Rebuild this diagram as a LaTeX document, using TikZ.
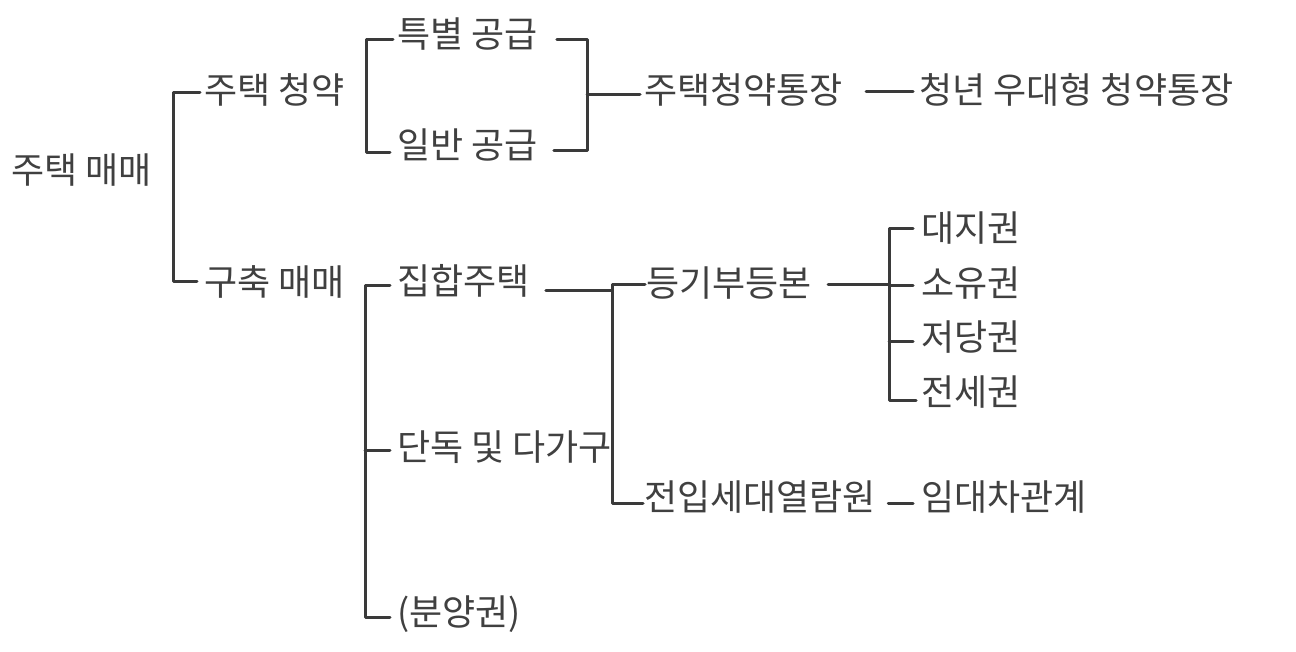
\documentclass[tikz,border=0pt]{standalone}
\usepackage{fontspec}
\setmainfont{Noto Sans CJK KR}
\definecolor{ink}{HTML}{404040}
\definecolor{wire}{HTML}{3A3A3A}

\tikzset{
  leaf/.style={anchor=west, inner sep=0pt, text=ink, font=\fontsize{36}{36}\selectfont, text height=29pt, text depth=2pt},
  branch/.style={draw=wire, line width=3pt, line cap=round, line join=round}
}

\begin{document}
\begin{tikzpicture}[x=1pt, y=-1pt]
\useasboundingbox (0,0) rectangle (1296,652);
\node[leaf] (root) at (11,170) {주택 매매};
\node[leaf] (apply) at (204,90) {주택 청약};
\node[leaf] (used) at (204,282) {구축 매매};
\node[leaf] (special) at (397,34) {특별 공급};
\node[leaf] (general) at (397,145) {일반 공급};
\node[leaf] (account) at (644,90) {주택청약통장};
\node[leaf] (youth) at (919,90) {청년 우대형 청약통장};
\node[leaf] (multi) at (397,281) {집합주택};
\node[leaf] (single) at (397,447) {단독 및 다가구};
\node[leaf] (presale) at (397,612) {(분양권)};
\node[leaf] (registry) at (646,283) {등기부등본};
\node[leaf] (resident) at (644,497) {전입세대열람원};
\node[leaf] (lease) at (921,497) {임대차관계};
\node[leaf] (land) at (921,228) {대지권};
\node[leaf] (own) at (921,283) {소유권};
\node[leaf] (mortgage) at (921,337) {저당권};
\node[leaf] (jeonse) at (921,392) {전세권};
\coordinate (j1) at (587,95);
\coordinate (j2) at (612,291);
\coordinate (j3) at (889,285);
\draw[branch] ([xshift=-4pt,yshift=-3pt]apply.west) -- ++(-27,0) |- ([xshift=-7pt]used.west);
\draw[branch] ([xshift=-4pt,yshift=-6pt]special.west) -- ++(-27,0) |- ([xshift=-7pt,yshift=-8pt]general.west);
\draw[branch] ([xshift=19pt,yshift=-6pt]special.east) -| (j1) |- ([xshift=16pt,yshift=-6pt]general.east);
\draw[branch] (j1) -- ([xshift=-4pt]j1 -| account.west);
\draw[branch] ([xshift=23pt,yshift=-2pt]account.east) -- ([xshift=-6pt,yshift=-2pt]youth.west);
\draw[branch] ([xshift=-7pt,yshift=-5pt]multi.west) -- ++(-25,0) |- ([xshift=-7pt,yshift=-5pt]presale.west);
\draw[branch] ([xshift=-7pt,yshift=-3pt]single.west) -- ++(-25,0);
\draw[branch] ([xshift=16pt,yshift=-10pt]multi.east) -- (j2);
\draw[branch] ([xshift=-1pt,yshift=-2pt]registry.west) -| (j2) |- ([xshift=-1pt,yshift=-6pt]resident.west);
\draw[branch] ([xshift=16pt,yshift=-2pt]registry.east) -- (j3);
\draw[branch] ([xshift=-8pt,yshift=-1pt]land.west) -| (j3) |- ([xshift=-5pt,yshift=-8pt]jeonse.west);
\draw[branch] ([xshift=-8pt,yshift=-3pt]own.west) -- ++(-24,0);
\draw[branch] ([xshift=-8pt,yshift=-5pt]mortgage.west) -- ++(-24,0);
\draw[branch] ([xshift=12pt,yshift=-6pt]resident.east) -- ([xshift=-8pt,yshift=-6pt]lease.west);
\end{tikzpicture}
\end{document}
